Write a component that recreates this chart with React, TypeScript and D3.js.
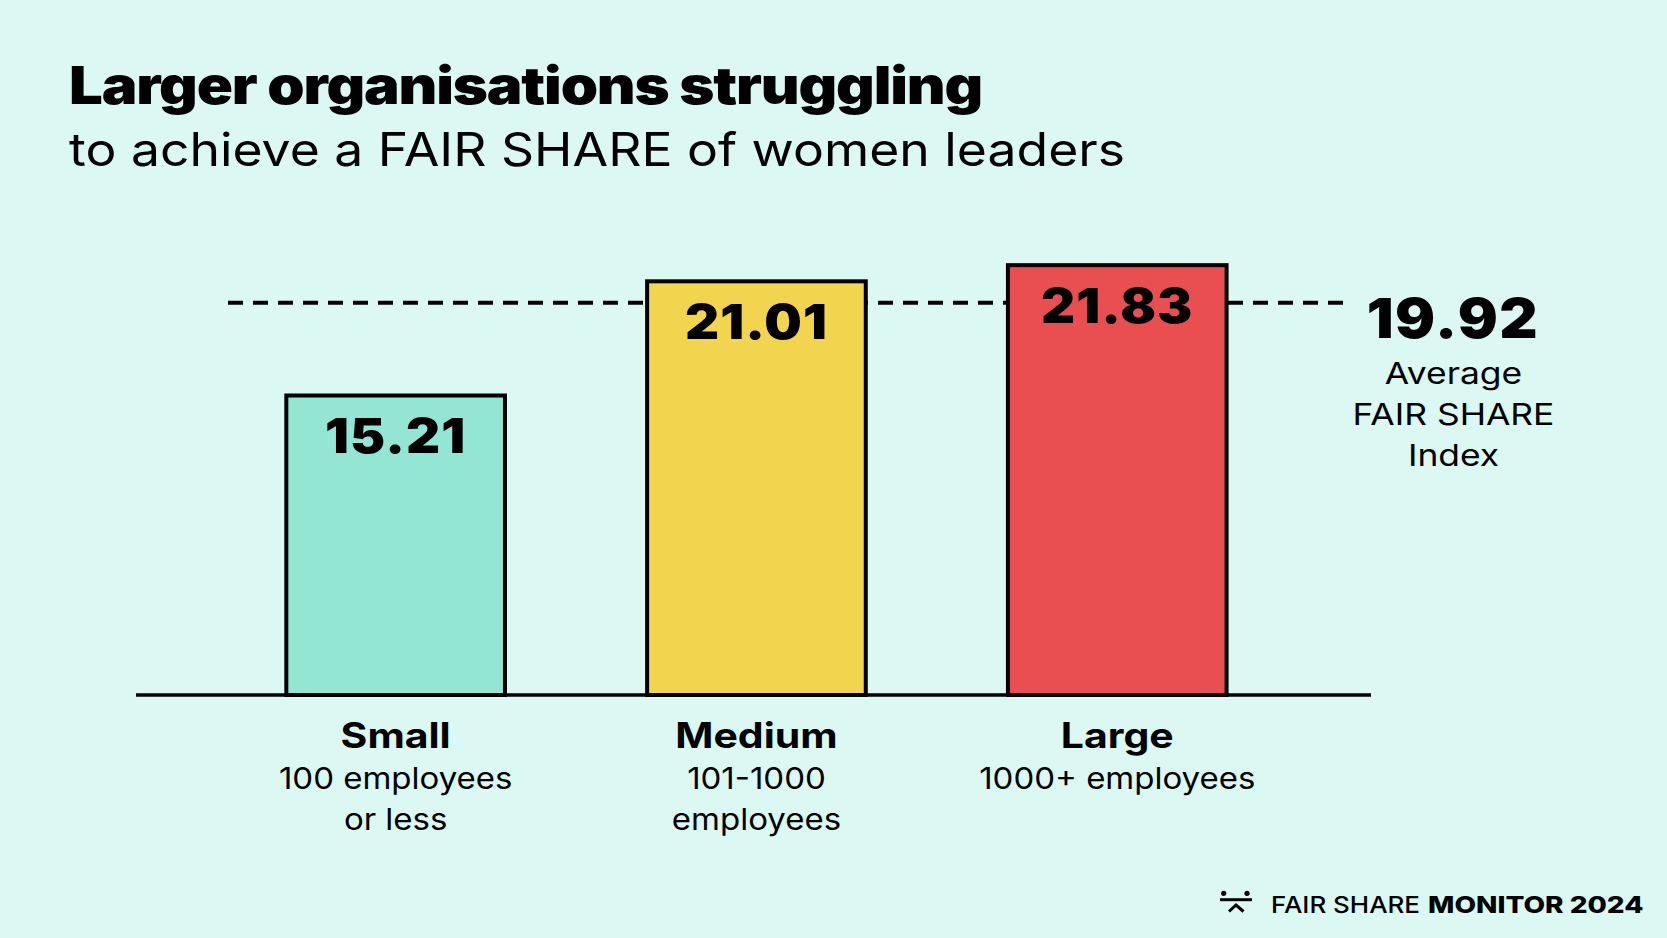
import React from "react"
import * as d3 from "d3"

// tamaño del lienzo
const W = 1667
const H = 938

const title = "Larger organisations struggling"
const subtitle = "to achieve a FAIR SHARE of women leaders"

// datos
const categories = ["Small", "Medium", "Large"]
const descriptions = [["100 employees", "or less"], ["101-1000", "employees"], ["1000+ employees"]]
const values = [15.21, 21.01, 21.83]
const barColors = ["#93e6d3", "#f3d44e", "#e94f51"]
const average = 19.92
const averageLabel = ["Average", "FAIR SHARE", "Index"]

const FONT = "Inter, 'Noto Sans', sans-serif"
const BG = "#dcf8f2"

// texto ensanchado horizontalmente (la fuente original es más ancha que Inter)
const Wide = ({ x, y, sx, children, ...rest }: any) => (
  <text transform={`translate(${x},${y}) scale(${sx},1)`} {...rest}>
    {children}
  </text>
)

export default function App() {
  // escalas
  const x = d3.scaleBand<string>()
    .domain(categories)
    .range([215.25, 1297.65])
    .paddingInner(0.394)
    .paddingOuter(0.197)

  const y = d3.scaleLinear().domain([0, 25]).range([695, 202.75])

  const base = y(0)
  const avgY = y(average)

  return (
    <div style={{ position: "fixed", left: 0, top: 0, width: W, height: H, background: BG }}>
      <svg width={W} height={H} viewBox={`0 0 ${W} ${H}`} style={{ display: "block" }} fontFamily={FONT}>
        <rect width={W} height={H} fill={BG} />

        {/* titulo */}
        <text x={69} y={104} fontSize={52} fontWeight={900} fill="#000" textLength={913} lengthAdjust="spacingAndGlyphs" letterSpacing={-1}>
          {title}
        </text>
        <text x={69} y={166} fontSize={46} fontWeight={400} fill="#000" textLength={1056} lengthAdjust="spacingAndGlyphs">
          {subtitle}
        </text>

        {/* linea del promedio, detras de las barras */}
        <line x1={228} x2={1343} y1={avgY} y2={avgY} stroke="#000" strokeWidth={4} strokeDasharray="15 10" />

        {/* barras */}
        {categories.map((c, i) => (
          <g key={c}>
            <rect
              x={x(c)}
              y={y(values[i])}
              width={x.bandwidth()}
              height={base - y(values[i])}
              fill={barColors[i]}
              stroke="#000"
              strokeWidth={4}
            />
            <Wide
              x={(x(c) ?? 0) + x.bandwidth() / 2}
              y={y(values[i]) + 57.4}
              sx={1.1}
              textAnchor="middle"
              fontSize={48}
              fontWeight={900}
              letterSpacing={1}
            >
              {values[i].toFixed(2)}
            </Wide>
          </g>
        ))}

        {/* eje */}
        <line x1={136} x2={1371} y1={base} y2={base} stroke="#000" strokeWidth={3.5} />

        {/* etiquetas de categorias */}
        {categories.map((c, i) => {
          const cx = (x(c) ?? 0) + x.bandwidth() / 2
          return (
            <g key={c + "-lab"}>
              <Wide x={cx} y={base + 53.3} sx={1.17} textAnchor="middle" fontSize={35} fontWeight={700}>
                {c}
              </Wide>
              {descriptions[i].map((d, j) => (
                <Wide key={d} x={cx} y={base + 94.3 + j * 40.7} sx={1.1} textAnchor="middle" fontSize={30} fontWeight={400}>
                  {d}
                </Wide>
              ))}
            </g>
          )
        })}

        {/* anotacion del promedio */}
        <Wide x={1453} y={338} sx={1.08} textAnchor="middle" fontSize={55} fontWeight={900} letterSpacing={1.5}>
          {average.toFixed(2)}
        </Wide>
        {averageLabel.map((t, j) => (
          <Wide key={t} x={1453.5} y={383.5 + j * 41} sx={1.18} textAnchor="middle" fontSize={30} fontWeight={400}>
            {t}
          </Wide>
        ))}

        {/* logo */}
        <g stroke="#000" fill="none" strokeWidth={3}>
          <circle cx={1223.7} cy={893.3} r={2.6} fill="#000" stroke="none" />
          <circle cx={1247} cy={893.3} r={2.6} fill="#000" stroke="none" />
          <line x1={1220} x2={1252} y1={899.7} y2={899.7} />
          <polyline points="1229,911.5 1236,905 1243.5,911.5" />
        </g>
        <text x={1271} y={912.7} fontSize={23} fontWeight={500} textLength={149} lengthAdjust="spacingAndGlyphs">
          FAIR SHARE
        </text>
        <text x={1428} y={912.7} fontSize={23} fontWeight={800} textLength={215.5} lengthAdjust="spacingAndGlyphs">
          MONITOR 2024
        </text>
      </svg>
    </div>
  )
}
